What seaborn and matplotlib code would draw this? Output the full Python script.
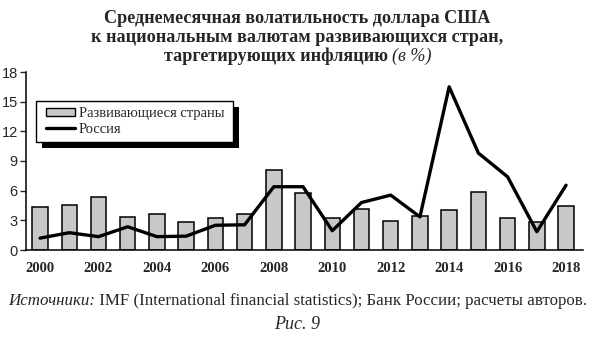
import numpy as np
import pandas as pd
import matplotlib
matplotlib.use('Agg')
import matplotlib.pyplot as plt
from matplotlib.patches import Patch, Rectangle
from matplotlib.lines import Line2D
import seaborn as sns

# Data
years = [str(y) for y in range(2000, 2019)]
emerging = [4.3, 4.55, 5.4, 3.3, 3.6, 2.8, 3.2, 3.6, 8.1, 5.8,
            3.2, 4.1, 2.9, 3.4, 4.0, 5.9, 3.2, 2.8, 4.5]
russia = [1.2, 1.75, 1.35, 2.35, 1.35, 1.4, 2.5, 2.55, 6.4, 6.4,
          1.95, 4.8, 5.55, 3.35, 16.5, 9.8, 7.4, 1.85, 6.55]
yticks = [0, 3, 6, 9, 12, 15, 18]

TITLE_LINES = ['Среднемесячная волатильность доллара США',
               'к национальным валютам развивающихся стран,']
TITLE_LAST = [('таргетирующих инфляцию ', 'bold', 'normal'), ('(в %)', 'normal', 'italic')]
SOURCE = [('Источники:', 'normal', 'italic'),
          (' IMF (International financial statistics); Банк России; расчеты авторов.', 'normal', 'normal')]
FIG_LABEL = 'Рис. 9'

W, H = 595, 343

sns.set_style('white')
plt.rcParams['font.family'] = ['Liberation Serif', 'DejaVu Serif']

df = pd.DataFrame({'year': years, 'emerging': emerging, 'russia': russia})

fig = plt.figure(figsize=(W / 100, H / 100), dpi=100)
ax = fig.add_axes([26 / W, 1 - 250 / H, (583 - 26) / W, (250 - 72) / H])

sns.barplot(data=df, x='year', y='emerging', color='#c8c8c8', edgecolor='black',
            linewidth=1.1, width=0.53, saturation=1, ax=ax)
sns.pointplot(data=df, x='year', y='russia', color='black', markers='', linestyles='-',
              errorbar=None, ax=ax)
for ln in ax.lines:
    ln.set_linewidth(2.4)

ax.set_xlim(-0.48, len(years) - 1 + 0.58)
ax.set_ylim(0, 18)
ax.set_yticks(yticks)
ax.set_yticklabels([str(v) for v in yticks], fontfamily='Liberation Sans', fontsize=10.5)
ax.set_xticks(range(0, len(years), 2))
ax.set_xticklabels(years[::2], fontweight='bold', fontsize=10.5)
ax.tick_params(axis='x', length=0, pad=9)
ax.tick_params(axis='y', length=4, width=1, direction='out', pad=2, left=True)
ax.set_xlabel('')
ax.set_ylabel('')
for side in ['top', 'right']:
    ax.spines[side].set_visible(False)
for side in ['left', 'bottom']:
    ax.spines[side].set_linewidth(1.1)
    ax.spines[side].set_color('black')


def px_rect(x0, y0, x1, y1, **kw):
    # rectangle given in pixel coords from top-left of the figure
    return Rectangle((x0 / W, 1 - y1 / H), (x1 - x0) / W, (y1 - y0) / H,
                     transform=fig.transFigure, **kw)


# legend frame with a solid black drop shadow
fig.patches.append(px_rect(42, 107, 239, 148, facecolor='black', edgecolor='none', zorder=5))
fig.patches.append(px_rect(36, 101, 233, 142, facecolor='white', edgecolor='black',
                           linewidth=1.0, zorder=6))

handles = [Patch(facecolor='#c8c8c8', edgecolor='black', linewidth=1.0),
           Line2D([], [], color='black', linewidth=2.4)]
leg = fig.legend(handles, ['Развивающиеся страны', 'Россия'], loc='center left',
                 bbox_to_anchor=(46 / W, 1 - 121.5 / H), frameon=False, fontsize=10.5,
                 handlelength=2.0, handleheight=0.45, handletextpad=0.25,
                 labelspacing=0.2, borderpad=0, borderaxespad=0)
leg.set_zorder(7)

# Titles and captions
for i, line in enumerate(TITLE_LINES):
    fig.text(0.5, 1 - (22.7 + 19.2 * i) / H, line, ha='center', va='baseline',
             fontsize=13.1, fontweight='bold')


def mixed_line(pieces, y, size):
    renderer = fig.canvas.get_renderer()
    texts = []
    for txt, weight, style in pieces:
        t = fig.text(0, y, txt, ha='left', va='baseline', fontsize=size,
                     fontweight=weight, fontstyle=style)
        texts.append(t)
    widths = [t.get_window_extent(renderer).width for t in texts]
    x = (fig.bbox.width - sum(widths)) / 2
    for t, w in zip(texts, widths):
        t.set_x(x / fig.bbox.width)
        x += w


mixed_line(TITLE_LAST, 1 - 61 / H, 13.1)
mixed_line(SOURCE, 1 - 305 / H, 12.2)
fig.text(0.5, 1 - 329 / H, FIG_LABEL, ha='center', va='baseline', fontsize=13,
         fontstyle='italic')

fig.savefig('out.png', dpi=100)
